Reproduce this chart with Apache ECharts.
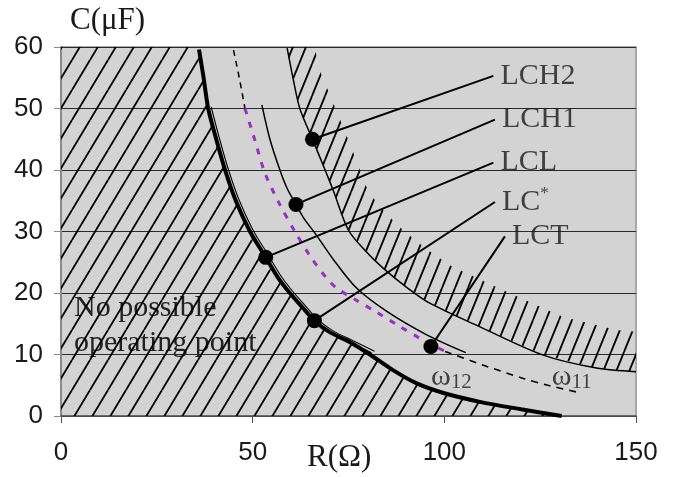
<!DOCTYPE html>
<html>
<head>
<meta charset="utf-8">
<script src="https://cdn.jsdelivr.net/npm/echarts@6/dist/echarts.min.js"></script>
<style>
html, body { margin: 0; padding: 0; background: #fff; }
#main { width: 675px; height: 477px; }
</style>
</head>
<body>
<div id="main"></div>
<script>
// curves, [R (ohm), C (uF)]
var thickCurve = [[36.0,59.6],[37.2,55],[38.4,50],[40.5,45],[42.8,40],[45.6,35],[49.3,30],[53.4,25.8],[56.5,22.6],[59.7,20],[62.8,17.8],[66.1,15.5],[70.2,13.6],[75.4,12.0],[80.6,10.0],[86.5,7.5],[92.8,5.3],[100,3.7],[109.3,2.3],[120,1.1],[130.6,0]];
var doubleCurve = [[38.4,50],[40.5,45],[42.8,40],[45.6,35],[49.3,30],[53.4,25.8],[56.5,22.6],[59.7,20],[62.8,17.8],[66.1,15.5],[70.2,13.6],[75.4,12.0],[81.0,10.3]];
var dashTop = [[45.0,59.5],[46.5,55],[48.0,50]];
var purpleCurve = [[48.0,50],[50.5,45],[53.2,39.5],[57.0,34.5],[61.0,30],[65.0,26],[69.3,22.4],[71.9,20.8],[77.1,18.8],[82.0,17.0],[88.0,14.7],[93.7,12.6],[100.2,10.5]];
var dashBottom = [[100.2,10.5],[110.0,8.3],[120.6,6.1],[127.0,5.0],[134.5,3.9]];
var lch1Curve = [[52.4,50.6],[54.5,45],[57.1,40],[59.0,37],[61.3,34.4],[63.5,32],[66.3,29.7],[71.0,25.5],[77.1,20.8],[85.0,17.0],[95.4,13.2],[105.6,10.3]];
var lch2Curve = [[59.0,59.8],[60.5,55],[62.3,50],[65.6,45],[68.9,40],[71.0,36.7],[75.0,30.2],[79.5,26.8],[84.1,24.0],[90.0,21.0],[96.3,18.3],[109.3,14.5],[125.8,9.9],[139.7,7.8],[150,7.2]];

var dotPoints = [[65.6,45.0],[61.3,34.4],[53.4,25.8],[66.1,15.5],[96.5,11.3]];
var labelPoints = [[112.8,55.3],[113.2,48.2],[112.8,41.2],[113.2,34.8],[115.8,29.2]];
var labelNames = ['LCH2', 'LCH1', 'LCL', 'LC{sup|*}', 'LCT'];
var omegaPoints = [[96.5,6.4],[128.0,6.4]];
var omegaNames = ['12', '11'];

var serif = 'Liberation Serif';

function hatch(w, h, lw) {
    var c = document.createElement('canvas');
    c.width = w;
    c.height = h;
    var ctx = c.getContext('2d');
    ctx.strokeStyle = '#000';
    ctx.lineWidth = lw;
    for (var k = -1; k <= 1; k++) {
        ctx.beginPath();
        ctx.moveTo(k * w, h);
        ctx.lineTo((k + 1) * w, 0);
        ctx.stroke();
    }
    return c;
}
var leftHatch = hatch(18, 30, 1.8);
var rightHatch = hatch(13, 32, 1.8);

var chart = echarts.init(document.getElementById('main'));

var leaders = dotPoints.map(function (p, i) {
    return { coords: [p, labelPoints[i]] };
});

var option = {
    animation: false,
    grid: {
        left: 61, right: 39, top: 47, bottom: 61,
        show: true,
        backgroundColor: '#d3d3d3',
        borderColor: '#a8a8a8',
        borderWidth: 2
    },
    xAxis: {
        type: 'value', min: 0, max: 150, interval: 50,
        axisLine: { lineStyle: { color: '#555', width: 1.5 } },
        axisTick: { show: true, length: 7, lineStyle: { color: '#555' } },
        axisLabel: { margin: 24, fontSize: 26, color: '#1a1a1a', fontFamily: 'Liberation Sans' },
        splitLine: { show: false }
    },
    yAxis: {
        type: 'value', min: 0, max: 60, interval: 10,
        axisLine: { show: true, lineStyle: { color: '#8a8a8a', width: 2 } },
        axisTick: { show: true, length: 7, lineStyle: { color: '#8a8a8a' } },
        axisLabel: { margin: 18, fontSize: 26, color: '#1a1a1a', fontFamily: 'Liberation Sans' },
        splitLine: { lineStyle: { color: '#2a2a2a', width: 1.2 } }
    },
    graphic: [
        { type: 'text', left: 70, top: 5, style: { text: 'C(μF)', font: '31px "Liberation Serif"', fill: '#1a1a1a' } },
        { type: 'text', left: 307, top: 442, style: { text: 'R(Ω)', font: '31px "Liberation Serif"', fill: '#1a1a1a' } },
        { type: 'text', left: 74, top: 291, style: { text: 'No possible\noperating point', font: '30px "Liberation Serif"', lineHeight: 35, fill: '#222' } }
    ],
    series: [
        {
            type: 'custom', clip: true, silent: true, z: 1,
            data: [0],
            renderItem: function (params, api) {
                var pts = [api.coord([0, 60]), api.coord([thickCurve[0][0], 60])];
                thickCurve.forEach(function (p) { pts.push(api.coord(p)); });
                pts.push(api.coord([0, 0]));
                return { type: 'polygon', shape: { points: pts }, style: { fill: { image: leftHatch, repeat: 'repeat' } } };
            }
        },
        {
            type: 'custom', clip: true, silent: true, z: 1,
            data: [0],
            renderItem: function (params, api) {
                var lower = lch2Curve.map(function (p) { return api.coord(p); });
                var upper = lower.map(function (p) { return [p[0] + 20, p[1] - 38]; }).reverse();
                return { type: 'polygon', shape: { points: lower.concat(upper) }, style: { fill: { image: rightHatch, repeat: 'repeat' } } };
            }
        },
        {
            type: 'line', data: thickCurve, symbol: 'none', smooth: 0.3, z: 3,
            lineStyle: { color: '#000', width: 4 }
        },
        {
            type: 'line', data: doubleCurve, symbol: 'none', smooth: 0.3, z: 3,
            lineStyle: { color: '#000', width: 1.1, shadowColor: '#000', shadowBlur: 0, shadowOffsetX: 3, shadowOffsetY: -1.5 }
        },
        {
            type: 'line', data: dashTop, symbol: 'none', smooth: 0.3, z: 3,
            lineStyle: { color: '#000', width: 1.5, type: [6, 5] }
        },
        {
            type: 'line', data: purpleCurve, symbol: 'none', smooth: 0.3, z: 3,
            lineStyle: { color: '#9b2fbf', width: 3, type: [6, 8] }
        },
        {
            type: 'line', data: dashBottom, symbol: 'none', smooth: 0.3, z: 3,
            lineStyle: { color: '#000', width: 1.6, type: [7, 6] }
        },
        {
            type: 'line', data: lch1Curve, symbol: 'none', smooth: 0.3, z: 3,
            lineStyle: { color: '#000', width: 1.5 }
        },
        {
            type: 'line', data: lch2Curve, symbol: 'none', smooth: 0.3, z: 3,
            lineStyle: { color: '#000', width: 1.5 }
        },
        {
            type: 'lines', coordinateSystem: 'cartesian2d', z: 4,
            data: leaders,
            lineStyle: { color: '#000', width: 2, opacity: 1, curveness: 0 }
        },
        {
            type: 'scatter', data: dotPoints, symbolSize: 15, z: 5,
            itemStyle: { color: '#000', opacity: 1 }
        },
        {
            type: 'scatter', data: labelPoints, symbolSize: 0, z: 5,
            label: {
                show: true, position: 'right', distance: 7,
                fontFamily: serif, fontSize: 30, color: '#1a1a1a',
                formatter: function (p) { return labelNames[p.dataIndex]; },
                rich: { sup: { fontFamily: serif, fontSize: 17, color: '#1a1a1a', padding: [0, 0, 16, 0] } }
            }
        },
        {
            type: 'scatter', data: omegaPoints, symbolSize: 0, z: 5,
            label: {
                show: true, position: 'right', distance: 0,
                formatter: function (p) { return '{w|ω}{s|' + omegaNames[p.dataIndex] + '}'; },
                rich: {
                    w: { fontFamily: serif, fontSize: 30, color: '#1a1a1a' },
                    s: { fontFamily: serif, fontSize: 21, color: '#1a1a1a', padding: [12, 0, 0, 0] }
                }
            }
        }
    ]
};
chart.setOption(option);
</script>
</body>
</html>
